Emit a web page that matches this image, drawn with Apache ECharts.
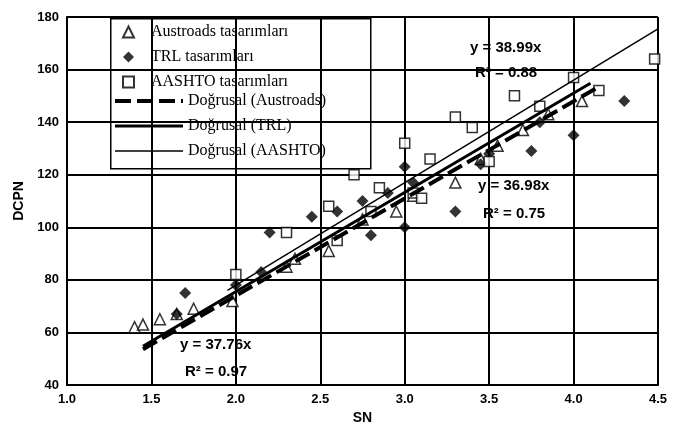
<!DOCTYPE html>
<html><head><meta charset="utf-8">
<script src="https://cdn.jsdelivr.net/npm/echarts@6/dist/echarts.min.js"></script>
<style>body{margin:0}#main{width:676px;height:436px}</style></head>
<body><div id="main"></div>
<script>
var austroads = [[1.4,62],[1.45,63],[1.55,65],[1.65,67],[1.75,69],[1.98,72],[2.3,85],[2.35,88],[2.55,91],[2.75,103],[2.95,106],[3.05,112],[3.3,117],[3.45,126],[3.55,131],[3.7,137],[3.85,143],[4.05,148]];
var trl = [[1.7,75],[1.65,67],[2.0,78],[2.15,83],[2.2,98],[2.45,104],[2.6,106],[2.75,110],[2.8,97],[2.9,113],[3.0,123],[3.0,100],[3.05,117],[3.3,106],[3.45,124],[3.5,128],[3.75,129],[3.8,140],[4.0,135],[4.3,148]];
var aashto = [[2.0,82],[2.3,98],[2.55,108],[2.6,95],[2.7,120],[2.8,106],[2.85,115],[3.0,132],[3.05,113],[3.1,111],[3.15,126],[3.3,142],[3.4,138],[3.5,125],[3.65,150],[3.8,146],[4.0,157],[4.15,152],[4.48,164]];
var slopes = {austroads: 36.98, trl: 37.76, aashto: 38.99};
var lineX = [1.45, 4.5];
function fit(k, x0, x1){ return [[x0, k*x0], [x1, k*x1]]; }

var chart = echarts.init(document.getElementById('main'));
var serif = 'Liberation Serif';
var legText = {fontFamily: serif, fontSize: 16, color: '#000'};
chart.setOption({
  animation: false,
  grid: {left: 67, right: 18, top: 17, bottom: 51},
  xAxis: {type: 'value', min: 1.0, max: 4.5, interval: 0.5, name: 'SN', nameLocation: 'middle', nameGap: 26,
    nameTextStyle: {fontFamily: 'Liberation Sans', fontWeight: 'bold', fontSize: 14, color: '#000'},
    axisLine: {lineStyle: {color: '#000', width: 2}}, axisTick: {show: false},
    axisLabel: {formatter: function(v){return v.toFixed(1);}, fontFamily: 'Liberation Sans', fontWeight: 'bold', fontSize: 13, color: '#000'},
    splitLine: {lineStyle: {color: '#000', width: 2}}},
  yAxis: {type: 'value', min: 40, max: 180, interval: 20, name: 'DCPN', nameLocation: 'middle', nameGap: 40,
    nameTextStyle: {fontFamily: 'Liberation Sans', fontWeight: 'bold', fontSize: 14, color: '#000'},
    axisLine: {show: true, lineStyle: {color: '#000', width: 2}}, axisTick: {show: false},
    axisLabel: {fontFamily: 'Liberation Sans', fontWeight: 'bold', fontSize: 13, color: '#000'},
    splitLine: {lineStyle: {color: '#000', width: 2}}},
  legend: [
    {orient: 'vertical', left: 122, top: 24, itemGap: 9, itemWidth: 11, itemHeight: 11, padding: 0,
      data: ['Austroads tasarımları', 'TRL tasarımları', 'AASHTO tasarımları'],
      textStyle: {fontFamily: serif, fontSize: 16, color: '#000', padding: [0, 0, 0, 12]}},
    {orient: 'vertical', left: 113, top: 93, itemGap: 9, itemWidth: 68, itemHeight: 14, padding: 0,
      itemStyle: {opacity: 0},
      data: [
        {name: 'Doğrusal (Austroads)', lineStyle: {width: 4, type: [16, 6]}},
        {name: 'Doğrusal (TRL)', lineStyle: {width: 3}},
        {name: 'Doğrusal (AASHTO)', lineStyle: {width: 1.5}}
      ], textStyle: legText}
  ],
  series: [
    {name: 'Austroads tasarımları', type: 'scatter', data: austroads, symbol: 'triangle', symbolSize: 11,
      itemStyle: {color: '#fff', borderColor: '#000', borderWidth: 1.5}},
    {name: 'TRL tasarımları', type: 'scatter', data: trl, symbol: 'diamond', symbolSize: 12, itemStyle: {color: '#000'}},
    {name: 'AASHTO tasarımları', type: 'scatter', data: aashto, symbol: 'rect', symbolSize: 10,
      itemStyle: {color: '#fff', borderColor: '#000', borderWidth: 1.5}},
    {name: 'Doğrusal (Austroads)', type: 'line', data: fit(slopes.austroads, lineX[0], 4.15), symbol: 'none',
      lineStyle: {color: '#000', width: 4, type: [16, 6]}},
    {name: 'Doğrusal (TRL)', type: 'line', data: fit(slopes.trl, lineX[0], 4.1), symbol: 'none',
      lineStyle: {color: '#000', width: 3}},
    {name: 'Doğrusal (AASHTO)', type: 'line', data: fit(slopes.aashto, 1.95, lineX[1]), symbol: 'none',
      lineStyle: {color: '#000', width: 1.5}}
  ],
  graphic: [
    {type: 'rect', left: 110, top: 18, z: 0, shape: {width: 260, height: 150},
      style: {fill: '#fff', stroke: '#000', lineWidth: 1.5}},
    {type: 'text', left: 470, top: 40, style: {text: 'y = 38.99x', font: 'bold 15px Liberation Sans', fill: '#000'}},
    {type: 'text', left: 475, top: 65, style: {text: 'R² = 0.88', font: 'bold 15px Liberation Sans', fill: '#000'}},
    {type: 'text', left: 478, top: 178, style: {text: 'y = 36.98x', font: 'bold 15px Liberation Sans', fill: '#000'}},
    {type: 'text', left: 483, top: 206, style: {text: 'R² = 0.75', font: 'bold 15px Liberation Sans', fill: '#000'}},
    {type: 'text', left: 180, top: 337, style: {text: 'y = 37.76x', font: 'bold 15px Liberation Sans', fill: '#000'}},
    {type: 'text', left: 185, top: 364, style: {text: 'R² = 0.97', font: 'bold 15px Liberation Sans', fill: '#000'}}
  ]
});
</script></body></html>
